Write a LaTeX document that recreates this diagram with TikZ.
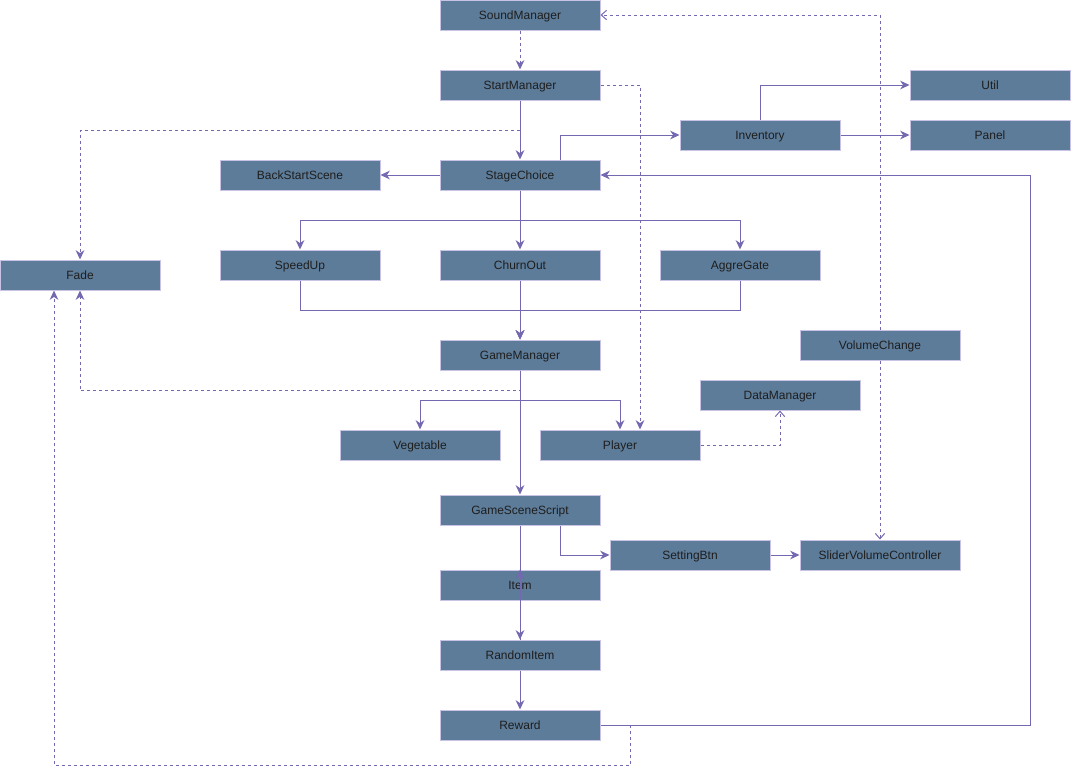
\documentclass[tikz,border=0pt]{standalone}
\usepackage{fontspec}
\setmainfont{Liberation Sans}
\usetikzlibrary{arrows.meta,calc}
\definecolor{BoxSlate}{HTML}{5D7C99}
\definecolor{BoxEdge}{HTML}{C9C4E6}
\definecolor{LinkPurple}{HTML}{7468B0}
\definecolor{LabelInk}{HTML}{1E1E1E}

\begin{document}
\begin{tikzpicture}[
  x=0.75pt, y=-0.75pt,
  every node/.style={font=\fontsize{9}{11}\selectfont, text=LabelInk},
  cls/.style={rectangle, draw=BoxEdge, fill=BoxSlate, minimum width=120pt, minimum height=22.5pt, inner sep=0pt, text height=8.2pt, text depth=2pt, line width=0.75pt},
  arr/.style={-{Stealth[length=7pt,width=6.5pt,inset=2.2pt]}, draw=LinkPurple, line width=0.75pt},
  dep/.style={arr, dash pattern=on 2.25pt off 2.25pt},
  use/.style={-{Straight Barb[length=4pt,width=7pt]}, draw=LinkPurple, line width=0.75pt, dash pattern=on 2.25pt off 2.25pt}
]
\useasboundingbox (0,0) rectangle (1072,776);

%% classes -- centre column
\node[cls] (SoundManager) at (520,15) {SoundManager};
\node[cls] (StartManager) at (520,85) {StartManager};
\node[cls] (StageChoice) at (520,175) {StageChoice};
\node[cls] (ChurnOut) at (520,265) {ChurnOut};
\node[cls] (GameManager) at (520,355) {GameManager};
\node[cls] (GameSceneScript) at (520,510) {GameSceneScript};
\node[cls] (Item) at (520,585) {Item};
\node[cls] (RandomItem) at (520,655) {RandomItem};
\node[cls] (Reward) at (520,725) {Reward};

%% classes -- left and right
\node[cls] (BackStartScene) at (300,175) {BackStartScene};
\node[cls] (Fade) at (80,275) {Fade};
\node[cls] (SpeedUp) at (300,265) {SpeedUp};
\node[cls] (AggreGate) at (740,265) {AggreGate};
\node[cls] (Inventory) at (760,135) {Inventory};
\node[cls] (Util) at (990,85) {Util};
\node[cls] (Panel) at (990,135) {Panel};
\node[cls] (VolumeChange) at (880,345) {VolumeChange};
\node[cls] (DataManager) at (780,395) {DataManager};
\node[cls] (Vegetable) at (420,445) {Vegetable};
\node[cls] (Player) at (620,445) {Player};
\node[cls] (SettingBtn) at (690,555) {SettingBtn};
\node[cls] (SliderVolumeController) at (880,555) {SliderVolumeController};

%% dashed links
\draw[dep] (SoundManager) -- (StartManager);
\draw[dep] (StartManager.east) -| ([xshift=15pt]Player.north);
\draw[dep] (StartManager.south) -- ++(0,30) -| (Fade.north);
\draw[dep] (GameManager.south) -- ++(0,20) -| (Fade.south);
\draw[dep] ([xshift=22.5pt]Reward.east) -- ++(0,40) -| ([xshift=-19.5pt]Fade.south);
\draw[use] (Player.east) -| (DataManager.south);
\draw[use] (VolumeChange.north) |- (SoundManager.east);
\draw[use] (VolumeChange) -- (SliderVolumeController);

%% solid links
\draw[arr] (StartManager) -- (StageChoice);
\draw[arr] (StageChoice) -- (BackStartScene);
\draw[arr] ([xshift=30pt]StageChoice.north) |- (Inventory.west);
\draw[arr] (Inventory.north) |- (Util.west);
\draw[arr] (Inventory) -- (Panel);
\foreach \n in {SpeedUp, AggreGate} {
  \draw[arr] (StageChoice.south) -- ++(0,30) -| (\n.north);
  \draw[arr] (\n.south) -- ++(0,30) -| (GameManager.north);
}
\draw[arr] (StageChoice) -- (ChurnOut);
\draw[arr] (ChurnOut) -- (GameManager);
\foreach \n in {Vegetable, Player} {
  \draw[arr] (GameManager.south) -- ++(0,30) -| (\n.north);
}
\draw[arr] (GameManager) -- (GameSceneScript);
\draw[arr] ([xshift=30pt]GameSceneScript.south) |- (SettingBtn.west);
\draw[arr] (SettingBtn) -- (SliderVolumeController);
\draw[arr] (GameSceneScript.south) -- (RandomItem.north);
\draw[arr] (RandomItem.north) -- (Item.north);
\draw[arr] (RandomItem) -- (Reward);
\draw[arr] (Reward.east) -- ++(430,0) |- (StageChoice.east);
\end{tikzpicture}
\end{document}
